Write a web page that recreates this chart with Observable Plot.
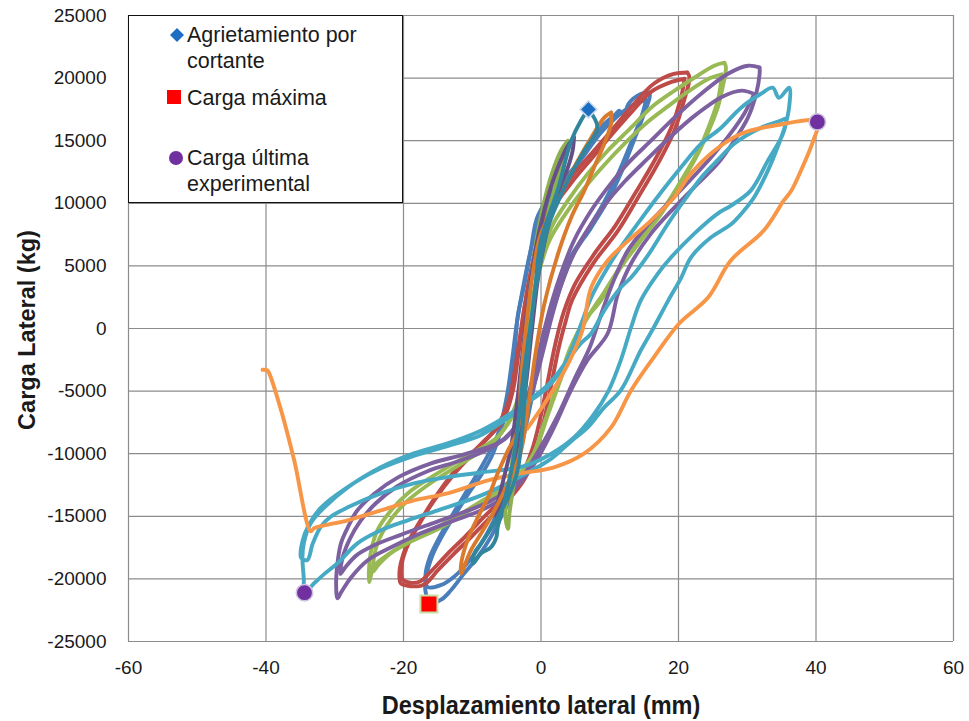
<!DOCTYPE html>
<html>
<head>
<meta charset="utf-8">
<script src="https://cdn.jsdelivr.net/npm/d3@7"></script>
<script src="https://cdn.jsdelivr.net/npm/@observablehq/plot@0.6"></script>
<style>
  body { margin: 0; background: #fff; }
  #chart { position: relative; width: 969px; height: 721px; font-family: "Liberation Sans", Arial, sans-serif; color: #1a1a1a; }
  #chart svg { display: block; }
  .legend { position: absolute; left: 128px; top: 15px; width: 275px; height: 188px; box-sizing: border-box;
            border: 1.4px solid #111; background: #fff; }
  .entry { position: absolute; left: 58px; font-size: 21.5px; line-height: 26px; white-space: nowrap; }
  .mk { position: absolute; }
  .ytitle { position: absolute; left: 27px; top: 330px; transform: translate(-50%, -50%) rotate(-90deg);
            font-weight: bold; font-size: 23.5px; white-space: nowrap; }
  .xtitle { position: absolute; left: 541px; top: 705px; transform: translate(-50%, -50%) scaleX(0.94);
            font-weight: bold; font-size: 25px; white-space: nowrap; }
</style>
</head>
<body>
<div id="chart"></div>
<script>
// Axis ticks
const xTicks = [-60, -40, -20, 0, 20, 40, 60];
const yTicks = [-25000, -20000, -15000, -10000, -5000, 0, 5000, 10000, 15000, 20000, 25000];

// Hysteresis cycles: [displacement (mm), lateral load (kg)]
const blueCycleA = [[15.8,18860],[15.8,18460],[15,17160],[13.5,15000],[11.6,12370],[9.7,10210],[7.3,8060],[4.8,5990],[3,3600],[1.6,1200],[0.5,-1000],[-0.5,-3200],[-1.5,-6000],[-2.6,-8800],[-3.6,-11200],[-4.4,-13460],[-5.8,-15060],[-7.3,-16650],[-9.2,-18250],[-11.2,-19580],[-13.1,-20910],[-14.5,-21650],[-16.2,-21900],[-16.8,-21000],[-16.8,-20100],[-16.4,-19100],[-15.7,-18000],[-14.3,-16500],[-12.1,-14520],[-10.2,-12900],[-8.7,-11700],[-7,-10000],[-5.5,-7500],[-4.4,-4800],[-3.9,-2550],[-3.4,900],[-2.4,3570],[-1.5,6220],[-0.6,8800],[1,10400],[2.8,11700],[4.8,12850],[6.8,14440],[8.7,16040],[10.9,17140],[11.4,17400],[12.1,17000],[12.7,17930],[14.5,18730],[15.8,18860]];
const blueCycleB = [[15.3,18250],[14.6,16900],[13,14700],[11,12100],[9,9900],[6.6,7700],[4.2,5600],[2.4,3200],[1.1,800],[0,-1500],[-1,-4000],[-2.1,-7000],[-3.3,-10000],[-4.8,-12700],[-6.4,-14800],[-8.4,-16900],[-10.5,-18600],[-12.6,-19800],[-14.6,-20500],[-16.5,-20650],[-16.8,-19700],[-16.2,-18300],[-14.8,-16700],[-12.8,-14800],[-10.6,-12800],[-8.2,-10600],[-6.3,-8500],[-5,-5500],[-4.2,-2500],[-3.5,500],[-2.6,3300],[-1.6,6000],[-0.3,8600],[1.8,10500],[4.2,12300],[6.5,14000],[8.8,15700],[11,16900],[13.2,17800],[15.3,18250]];
const redCycleA = [[21.3,20450],[19.3,20330],[16.4,19550],[13.5,17930],[10.6,16040],[7.7,14200],[4.8,12370],[1.9,10210],[0,8060],[-1.2,5200],[-2.1,2500],[-2.8,0],[-3.4,-2500],[-4.1,-5000],[-5.6,-7400],[-8.7,-9210],[-12.1,-11090],[-15,-13170],[-17.5,-15320],[-19.4,-17160],[-20.4,-18750],[-20.6,-19700],[-20.4,-20350],[-19.4,-20550],[-17.5,-20550],[-16.7,-20350],[-15,-19310],[-12.6,-17960],[-10.2,-16680],[-7.8,-15320],[-4.8,-13730],[-2.5,-12130],[-0.8,-10000],[0.5,-7200],[1.6,-4200],[2.6,-1500],[3.6,600],[4.5,2230],[7.6,5200],[11.2,7820],[14.1,10450],[17,13170],[19.4,15800],[20.8,18190],[21.6,20030],[21.3,20450]];
const redCycleB = [[20.9,19950],[19,19700],[16,18900],[13.2,17300],[10.3,15500],[7.4,13600],[4.5,11700],[1.6,9500],[-0.3,7200],[-1.5,4500],[-2.4,1800],[-3.1,-800],[-3.8,-3300],[-4.7,-5800],[-6.6,-8000],[-9.4,-9700],[-12.6,-11600],[-15.5,-13700],[-17.9,-15800],[-19.6,-17600],[-20.3,-19000],[-20.2,-20000],[-19,-20300],[-17.6,-20200],[-16,-19400],[-13.6,-18000],[-11,-16600],[-8.4,-15100],[-5.4,-13500],[-3,-11900],[-1.3,-9700],[0,-6900],[1.1,-3900],[2.1,-1200],[3.3,1300],[5,3600],[7.8,6000],[10.8,8200],[13.7,10800],[16.6,13500],[18.9,16000],[20.3,18300],[20.9,19950]];
const greenCycleA = [[26.7,21230],[25.2,20990],[22.3,20030],[19.4,18990],[16,17640],[13.1,16040],[9.7,14200],[6.8,12370],[3.9,10210],[1.5,8060],[0,5500],[-1,3000],[-1.8,0],[-2.5,-3000],[-3.6,-6000],[-6.2,-8600],[-11.2,-10290],[-16,-11890],[-19.4,-13170],[-21.8,-14520],[-23.8,-16120],[-24.7,-17720],[-25,-19070],[-25,-20250],[-24.3,-19000],[-22.8,-18270],[-19.4,-17160],[-14.5,-15880],[-9.7,-14280],[-4.8,-12690],[-1.5,-10500],[0.5,-7500],[2.4,-4500],[4.3,-1500],[6.3,600],[8.7,2230],[11.6,4870],[14.5,7020],[17.5,9180],[19.9,11250],[22.3,13410],[24.2,15560],[25.7,17640],[26.4,19230],[26.9,20830],[26.7,21230]];
const greenCycleB = [[26.3,20300],[24.6,20000],[21.6,19000],[18.6,17800],[15.3,16400],[12.4,14900],[9.1,13000],[6.3,11200],[3.5,9100],[1.2,7000],[-0.3,4500],[-1.3,2000],[-2,-1000],[-2.8,-4000],[-4,-6800],[-7,-9100],[-11.6,-10800],[-16.2,-12400],[-19.5,-13800],[-21.9,-15300],[-23.6,-16900],[-24.3,-18300],[-24.4,-19400],[-23.7,-18900],[-22,-18000],[-18.6,-16800],[-13.8,-15500],[-9,-13900],[-4.2,-12200],[-1,-9900],[1,-6900],[2.9,-4000],[4.8,-1200],[6.8,900],[9.3,3000],[12.2,5500],[15.2,7700],[18.1,9800],[20.6,12000],[22.9,14200],[24.6,16400],[25.8,18400],[26.3,20300]];
const purpleCycleA = [[31.8,20850],[30.1,20990],[27.2,20350],[23.3,18750],[19.4,16840],[16,15000],[12.6,13170],[9.7,11250],[7.3,9420],[4.8,7020],[2.9,4390],[1.5,2000],[0.3,-500],[-1,-3500],[-2.6,-6500],[-5.2,-8800],[-10.7,-9980],[-16,-10770],[-20.8,-11890],[-24.2,-13170],[-26.7,-14520],[-28.1,-15880],[-29.1,-17160],[-29.6,-18750],[-29.8,-20350],[-29.6,-21550],[-29.1,-21100],[-27.6,-19870],[-25.2,-18510],[-21.8,-17480],[-17.5,-16360],[-12.6,-15320],[-8.7,-14520],[-4.6,-13200],[-1.2,-11000],[1.8,-8000],[4.3,-5000],[6.8,-2500],[9.7,-400],[11.2,2790],[13.1,5190],[16,7580],[19.4,9660],[22.8,11570],[25.7,13170],[28.1,15000],[30.1,16840],[31.3,18750],[31.8,20350],[31.8,20850]];
const purpleCycleB = [[31,18730],[29.2,19000],[26.3,18500],[22.6,17100],[18.8,15300],[15.4,13500],[12.1,11700],[9.3,9900],[6.9,8000],[4.6,5800],[2.9,3400],[1.6,1000],[0.4,-1600],[-1,-4500],[-3,-7300],[-6.5,-9300],[-11.5,-10500],[-16.5,-11400],[-20.9,-12600],[-24.1,-14000],[-26.3,-15400],[-27.8,-16800],[-28.8,-18200],[-29.2,-19600],[-28.5,-19100],[-26.8,-18100],[-24.2,-17300],[-20.5,-16500],[-16,-15600],[-11.4,-14700],[-7.4,-13800],[-3.5,-12400],[-0.5,-9900],[2.4,-7000],[4.9,-4000],[7.1,-1500],[8.6,900],[10.4,3600],[12.6,6200],[15.6,8300],[19,10300],[22.3,12200],[25.1,13900],[27.6,15600],[29.6,17200],[31,18730]];
const cyanCycles = [[-1.5,-5750],[1,-4680],[2.9,-3350],[4.4,-1760],[5.8,300],[7.4,2600],[9.4,4600],[11.6,6500],[14.5,8700],[17.5,10900],[20.4,12900],[23.3,14760],[26.2,16040],[29.1,17640],[32,18750],[33.7,19230],[34.6,18430],[36.1,19230],[36.1,17720],[35.6,16360],[34.6,14760],[33,12610],[31,10480],[29.5,9400],[27.6,8300],[24.7,7260],[21.8,5670],[20.4,4070],[18.5,2230],[16.4,80],[14.5,-1760],[11.6,-4950],[9.2,-6300],[6.8,-7900],[4.4,-9000],[1.5,-10400],[-2.9,-11800],[-8.7,-13330],[-15,-14520],[-19.4,-15320],[-23.3,-16120],[-26.7,-17160],[-29.6,-18750],[-31.5,-19600],[-33,-20350],[-34.4,-21100],[-34.5,-20000],[-34.7,-18270],[-34.5,-17160],[-33.5,-15560],[-31.5,-14280],[-28.1,-12690],[-23.3,-11090],[-18.5,-9980],[-13.6,-9180],[-8.7,-8140],[-4.4,-6780],[-1.2,-5500],[1.2,-4400],[3.5,-2800],[5.8,-1200],[7.3,-400],[9.2,1440],[11.6,3270],[13.1,4070],[15.5,5800],[18.5,8400],[21.2,10500],[23.3,12050],[25.8,13500],[28.1,14760],[32,16040],[34.9,16600],[35.6,16760],[35.2,15560],[33,13410],[30.5,11010],[27.6,9800],[25.7,9180],[22.3,7580],[18.9,5670],[17,4390],[14.5,2230],[13.1,80],[11.6,-2550],[9.8,-5000],[7.5,-7000],[4.8,-8700],[1.5,-10000],[-2.5,-11000],[-8.7,-11500],[-13.6,-11870],[-18.5,-12370],[-23.3,-13170],[-28.1,-14280],[-30.5,-15000],[-32,-15800],[-33.2,-17180],[-34,-18500],[-34.9,-18300],[-34.7,-17000],[-33.8,-15700],[-32,-14300],[-28.5,-12800],[-23.8,-11300],[-18.6,-10200],[-13.6,-9400],[-8.7,-8500],[-4.4,-7000],[-2,-6200]];
const orangeCycle = [[-2,-8000],[0.5,-6000],[3,-3800],[5,-1600],[6.1,0],[7.3,3270],[9.7,5430],[12.7,7020],[16,8620],[19.3,10450],[21.8,12370],[25.2,14200],[29.1,15560],[33.9,16200],[40.2,16500],[39.6,15000],[37.8,12600],[36.4,11000],[35.3,10210],[32.4,7820],[27.6,5430],[24.3,2470],[20.1,400],[16.4,-2310],[13.1,-4950],[10.2,-7900],[6.3,-9980],[1.9,-11090],[-2.9,-11570],[-7.7,-12130],[-13.6,-13170],[-18.5,-13730],[-23.3,-14520],[-28.1,-15320],[-33,-15960],[-33.5,-16200],[-35.9,-10530],[-37.8,-6540],[-39.5,-3620],[-39.8,-3350],[-40.5,-3300]];
const smallGreenCycle = [[3.9,15000],[3.4,13800],[2.2,11600],[0.7,8400],[-0.5,4600],[-1.4,500],[-2.1,-3800],[-2.9,-8000],[-3.8,-11800],[-4.6,-14800],[-4.8,-16000],[-5.2,-14900],[-4.6,-12300],[-3.8,-9000],[-3.1,-5200],[-2.4,-1200],[-1.7,2800],[-0.8,6600],[0.4,10000],[1.6,12400],[2.9,14200],[3.9,15000]];
const darkPurpleCycle = [[4.8,15270],[4.6,14200],[3.9,12850],[2.9,11530],[1.2,8500],[-0.3,4500],[-1.3,0],[-2.2,-4500],[-3.2,-8500],[-4.5,-12000],[-5.9,-14500],[-6.3,-15320],[-6.5,-14600],[-5.7,-12600],[-4.4,-9600],[-3.5,-6000],[-2.7,-2000],[-1.9,2000],[-0.9,6000],[0.5,9500],[2.2,12500],[3.7,14400],[4.8,15270]];
const darkOrangeCycle = [[10.2,17260],[9.2,16840],[7.3,15240],[4.8,12850],[2.5,10210],[0,7580],[-1.3,4000],[-2.2,0],[-2.9,-4000],[-3.4,-8140],[-4.8,-9740],[-6.3,-11570],[-7.7,-13490],[-9.2,-15080],[-10.7,-16920],[-11.6,-18750],[-11.6,-19580],[-11.2,-19050],[-10.2,-17720],[-8.7,-16360],[-7.3,-15080],[-5.8,-13490],[-4.4,-11890],[-2.9,-9740],[-1.8,-6000],[-0.8,-2000],[0.5,2000],[2.5,6000],[4.5,9000],[6.3,11010],[7.7,12850],[9.2,14760],[10.2,16360],[10.2,17260]];
const darkTealCycle = [[6.9,17500],[8.2,16060],[6.3,14200],[3.9,11810],[1,8060],[-0.5,4000],[-1.6,0],[-2.6,-4000],[-3.4,-8000],[-4.2,-11000],[-5.4,-13970],[-6.3,-15880],[-6.5,-16680],[-7.3,-17480],[-8.7,-17950],[-9.9,-18780],[-9.7,-17960],[-8.7,-17160],[-6.8,-15560],[-4.8,-13490],[-3.4,-11330],[-2.7,-8000],[-2.2,-4000],[-1.5,0],[-0.8,3500],[0,7020],[2.4,11010],[4.4,15000],[5.8,16600],[6.9,17500]];

// Special points
const crackPoints = [[6.9, 17500]];
const maxLoadPoints = [[-16.3, -22000]];
const ultimatePoints = [[40.2, 16500], [-34.4, -21100]];
const legendLabels = ["Agrietamiento por cortante", "Carga máxima", "Carga última experimental"];

// Line styling per cycle, in drawing order
const cycleList = [blueCycleA, blueCycleB, redCycleA, redCycleB, greenCycleA, greenCycleB,
  purpleCycleA, purpleCycleB, cyanCycles, orangeCycle, smallGreenCycle, darkPurpleCycle, darkOrangeCycle, darkTealCycle];
const cycleColors = ["#4A7EBB", "#4A7EBB", "#BE4B48", "#BE4B48", "#98B954", "#98B954",
  "#7D60A0", "#7D60A0", "#46AAC5", "#F79646", "#8DB050", "#664F86", "#DA7A2C", "#31859C"];

const px = d => d[0], py = d => d[1];
const lineMarks = cycleList.map((pts, i) =>
  Plot.line(pts, {x: px, y: py, stroke: cycleColors[i], strokeWidth: 3.9,
    strokeLinejoin: "round", strokeLinecap: "round", curve: "catmull-rom"}));

const chart = Plot.plot({
  width: 969, height: 721,
  marginLeft: 128, marginRight: 16, marginTop: 15, marginBottom: 80,
  x: {domain: [-60, 60]},
  y: {domain: [-25000, 25000]},
  style: {fontFamily: "'Liberation Sans', Arial, sans-serif", fontSize: "19px", color: "#1a1a1a", background: "#fff"},
  marks: [
    Plot.gridX(xTicks, {stroke: "#8c8c8c", strokeOpacity: 1, strokeWidth: 1.2}),
    Plot.gridY(yTicks, {stroke: "#8c8c8c", strokeOpacity: 1, strokeWidth: 1.2}),
    Plot.axisX(xTicks, {tickSize: 0, tickPadding: 19, label: null, tickFormat: d => String(d),
      fontFamily: "'Liberation Sans Narrow', 'Liberation Sans', Arial, sans-serif", fontSize: 19}),
    Plot.axisY(yTicks, {tickSize: 0, tickPadding: 22, label: null, tickFormat: d => String(d), fontSize: 19}),
    ...lineMarks,
    Plot.dot(crackPoints, {x: px, y: py, symbol: "diamond2", r: 7.6, fill: "#1C6EC2", stroke: "#C6D9F1", strokeWidth: 1.6}),
    Plot.dot(maxLoadPoints, {x: px, y: py, symbol: "square", r: 9.6, fill: "#FF0000", stroke: "#C9DDA6", strokeWidth: 2}),
    Plot.dot(ultimatePoints, {x: px, y: py, symbol: "circle", r: 8.2, fill: "#7030A0", stroke: "#CFC3E0", strokeWidth: 1.6})
  ]
});

const root = document.getElementById("chart");
root.appendChild(chart);

// Legend box inside the plot area
const legend = document.createElement("div");
legend.className = "legend";
legend.innerHTML = `
  <svg class="mk" style="left:40px;top:11px" width="16" height="16"><path d="M8 1 L15 8 L8 15 L1 8 Z" fill="#1C6EC2"/></svg>
  <div class="entry" style="top:6px">Agrietamiento por<br>cortante</div>
  <div class="mk" style="left:38px;top:74px;width:14px;height:14px;background:#FF0000"></div>
  <div class="entry" style="top:69px">${legendLabels[1]}</div>
  <svg class="mk" style="left:39px;top:134px" width="16" height="16"><circle cx="8" cy="8" r="7" fill="#7030A0"/></svg>
  <div class="entry" style="top:129px">Carga última<br>experimental</div>`;
root.appendChild(legend);

const yt = document.createElement("div");
yt.className = "ytitle";
yt.textContent = "Carga Lateral (kg)";
root.appendChild(yt);

const xt = document.createElement("div");
xt.className = "xtitle";
xt.textContent = "Desplazamiento lateral (mm)";
root.appendChild(xt);
</script>
</body>
</html>
